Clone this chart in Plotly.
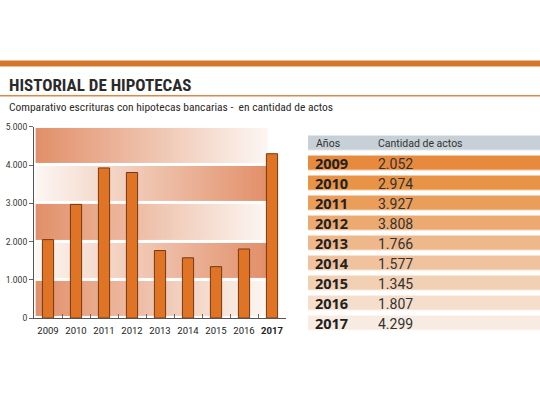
import numpy as np
import plotly.graph_objects as go

# data
years = ["2009", "2010", "2011", "2012", "2013", "2014", "2015", "2016", "2017"]
actos = [2052, 2974, 3927, 3808, 1766, 1577, 1345, 1807, 4299]
y_ticks = [0, 1000, 2000, 3000, 4000, 5000]

title = "HISTORIAL DE HIPOTECAS"
subtitle = "Comparativo escrituras con hipotecas bancarias -  en cantidad de actos"
table_header = ["Años", "Cantidad de actos"]

W, H = 540, 405
ORANGE = "#E07424"
LINE = "#D5772B"
NARROW = "Liberation Sans Narrow, Roboto Condensed, DejaVu Sans Condensed, Roboto"
row_colors = ["#C6D0D6", "#E88A3E", "#E89346", "#EA9E5A", "#ECAA70",
              "#EEB88A", "#F0C39E", "#F2D0B4", "#F5DFCC", "#F8ECE2"]

def px_x(p):
    return p / W

def px_y(p):
    return 1 - p / H

fig = go.Figure()

# background gradient bands behind the bars (decoration only)
band_x = np.linspace(-0.39, 7.78, 80)
band_y = [500, 1500, 2500, 3500, 4500]
ramp = np.linspace(1, 0, len(band_x))
band_z = [ramp if i % 2 == 0 else ramp[::-1] for i in range(len(band_y))]
fig.add_trace(go.Heatmap(
    x=band_x, y=band_y, z=band_z, ygap=3, zmin=0, zmax=1,
    colorscale=[[0, "#FCF6F2"], [1, "#E2906A"]],
    showscale=False, hoverinfo="skip", xaxis="x", yaxis="y"))

fig.add_trace(go.Bar(
    x=years, y=actos, width=0.4, xaxis="x2", yaxis="y",
    marker=dict(color=ORANGE, line=dict(color="#6E3A18", width=1)),
    hoverinfo="x+y"))

# table rows
n = len(years) + 1
scale = []
for i, c in enumerate(row_colors):
    scale.append([i / n, c])
    scale.append([(i + 1) / n, c])
fig.add_trace(go.Heatmap(
    x=[0], y=list(range(n)), z=[[i] for i in range(n)],
    zmin=-0.5, zmax=n - 0.5, colorscale=scale, ygap=5.5,
    showscale=False, hoverinfo="skip", xaxis="x3", yaxis="y3"))

ann = []
ann.append(dict(x=px_x(314), y=0, xref="paper", yref="y3", text=table_header[0],
                xanchor="left", yanchor="middle", showarrow=False,
                font=dict(family="Roboto", size=10.5, color="#333")))
ann.append(dict(x=px_x(376), y=0, xref="paper", yref="y3", text=table_header[1],
                xanchor="left", yanchor="middle", showarrow=False,
                font=dict(family="Roboto", size=10.5, color="#333")))
for i, (yr, v) in enumerate(zip(years, actos)):
    ann.append(dict(x=px_x(313), y=i + 1, xref="paper", yref="y3",
                    text=f"<b>{yr}</b>", xanchor="left", yanchor="middle",
                    showarrow=False,
                    font=dict(family="Open Sans", size=14.5, color="#222")))
    ann.append(dict(x=px_x(376), y=i + 1, xref="paper", yref="y3",
                    text=f"{v:,}".replace(",", "."), xanchor="left",
                    yanchor="middle", showarrow=False,
                    font=dict(family="Roboto", size=14, color="#333")))

ann.append(dict(x=px_x(7), y=px_y(82), xref="paper", yref="paper", text=f"<b>{title}</b>",
                xanchor="left", yanchor="middle", showarrow=False,
                font=dict(family=NARROW, size=17, color="#2a2a2a")))
ann.append(dict(x=px_x(7), y=px_y(105), xref="paper", yref="paper", text=subtitle,
                xanchor="left", yanchor="middle", showarrow=False,
                font=dict(family=NARROW, size=11.5, color="#2a2a2a")))

shapes = [
    dict(type="rect", xref="paper", yref="paper", x0=0, x1=1,
         y0=px_y(63), y1=px_y(57), fillcolor=LINE, line=dict(width=0), layer="below"),
    dict(type="line", xref="paper", yref="paper", x0=0, x1=1,
         y0=px_y(93), y1=px_y(93), line=dict(color="#D98A4A", width=1.5)),
]

tick_text = [f"<b>{y}</b>" if y == "2017" else y for y in years]

fig.update_layout(
    width=W, height=H, margin=dict(l=0, r=0, t=0, b=0),
    paper_bgcolor="white", plot_bgcolor="rgba(0,0,0,0)",
    separators=",.", showlegend=False,
    annotations=ann, shapes=shapes,
    xaxis=dict(domain=[px_x(34), px_x(286)], range=[-0.5, 8.5], visible=False,
               fixedrange=True),
    xaxis2=dict(overlaying="x", anchor="y", type="category", range=[-0.5, 8.5],
                categoryorder="array", categoryarray=years,
                tickvals=years, ticktext=tick_text, tickangle=0,
                showline=True, linecolor="#555", linewidth=1.2,
                ticks="inside", tickson="boundaries", ticklen=4, tickcolor="#666",
                ticklabelstandoff=3,
                showgrid=False, tickfont=dict(family="Roboto", size=9.5, color="#222")),
    yaxis=dict(domain=[px_y(321), px_y(125)], range=[0, 5000], tickvals=y_ticks,
               tickformat=",d", showline=True, linecolor="#555", linewidth=1.2,
               ticks="outside", ticklen=4, tickcolor="#666", showgrid=False,
               zeroline=False, tickfont=dict(family="Roboto", size=8.5, color="#333")),
    xaxis3=dict(domain=[px_x(308), 1], range=[-0.5, 0.5], visible=False, anchor="y3"),
    yaxis3=dict(domain=[px_y(337), px_y(131.75)], range=[n - 0.5, -0.5], visible=False,
                anchor="x3"),
)

# pin the figure to the window corner (no page margin, no extra page height)
pin = ("document.body.style.margin='0';"
       "var gd=document.getElementById('{plot_id}');"
       "gd.style.position='fixed';gd.style.top='0';gd.style.left='0';")
fig.write_html("out.html", config={"displayModeBar": False}, post_script=pin)
